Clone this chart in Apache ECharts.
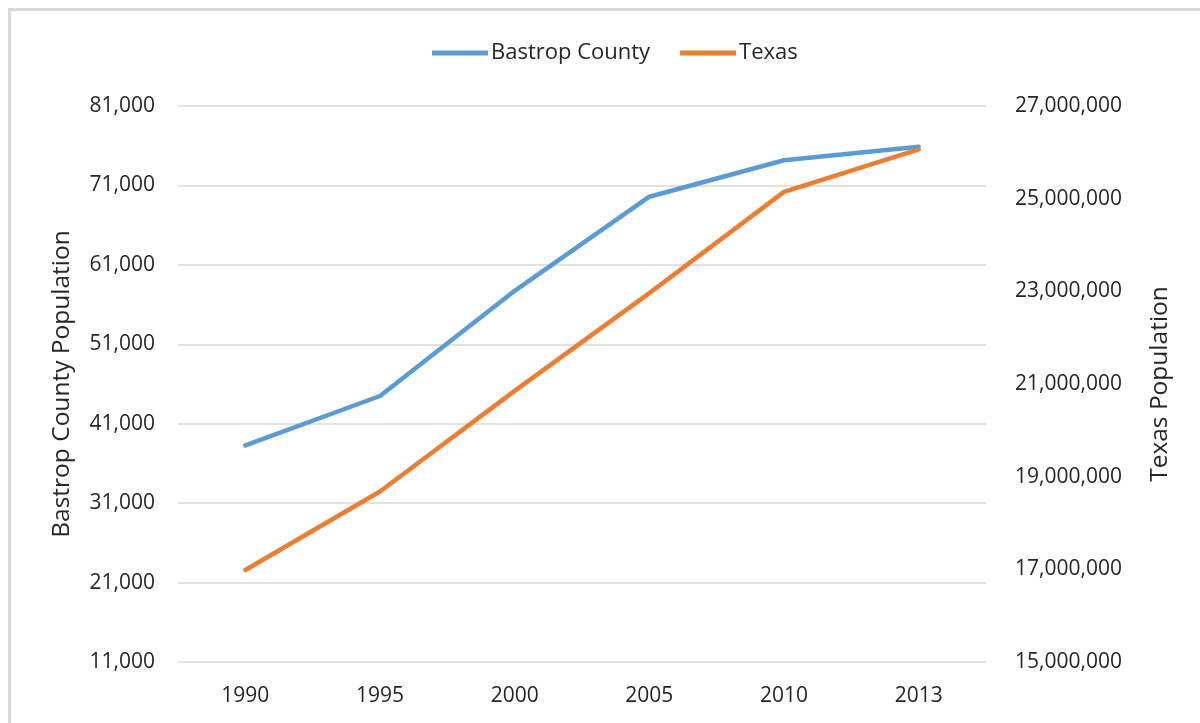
<!DOCTYPE html>
<html>
<head>
<meta charset="utf-8">
<script src="https://cdn.jsdelivr.net/npm/echarts@6/dist/echarts.min.js"></script>
<style>
html,body{margin:0;padding:0;background:#fff;}
#chart{width:1200px;height:723px;}
</style>
</head>
<body>
<div id="chart"></div>
<script>
const years = ['1990', '1995', '2000', '2005', '2010', '2013'];
const bastropCounty = [38263, 44490, 57733, 69580, 74171, 75880];
const texas = [16986510, 18680000, 20851820, 22960000, 25145561, 26065000];
const leftTicks = { min: 11000, max: 81000, interval: 10000 };
const rightTicks = { min: 15000000, max: 27000000, interval: 2000000 };

const FONT = 'Open Sans';
const TXT = '#262626';
const fmt = v => Math.round(v).toLocaleString('en-US');

const chart = echarts.init(document.getElementById('chart'), null, { renderer: 'canvas' });
chart.setOption({
  animation: false,
  backgroundColor: '#ffffff',
  textStyle: { fontFamily: FONT, color: TXT },
  graphic: [{
    type: 'rect',
    left: 8, top: 8,
    shape: { width: 1300, height: 800 },
    style: { fill: '#fefefe', stroke: '#d9d9d9', lineWidth: 3 },
    z: -10
  }],
  legend: {
    top: 37,
    left: 427,
    itemWidth: 56,
    itemHeight: 5,
    itemGap: 30,
    icon: 'rect',
    textStyle: { fontFamily: FONT, fontSize: 22, color: TXT, padding: [0, 0, 0, -2] },
    data: ['Bastrop County', 'Texas']
  },
  grid: { left: 178, right: 214, top: 106, bottom: 61, containLabel: false },
  xAxis: {
    type: 'category',
    data: years,
    boundaryGap: true,
    axisLine: { show: false },
    axisTick: { show: false },
    axisLabel: { fontFamily: FONT, fontSize: 21, color: TXT, margin: 24 }
  },
  yAxis: [{
    type: 'value',
    position: 'left',
    min: leftTicks.min, max: leftTicks.max, interval: leftTicks.interval,
    name: 'Bastrop County Population',
    nameLocation: 'middle',
    nameGap: 103,
    nameTextStyle: { fontFamily: FONT, fontSize: 24.5, color: TXT },
    axisLine: { show: false },
    axisTick: { show: false },
    axisLabel: { fontFamily: FONT, fontSize: 21, color: TXT, margin: 23, formatter: fmt },
    splitLine: { lineStyle: { color: '#d9d9d9', width: 1.5 } }
  }, {
    type: 'value',
    position: 'right',
    min: rightTicks.min, max: rightTicks.max, interval: rightTicks.interval,
    name: 'Texas Population',
    nameLocation: 'middle',
    nameGap: 162,
    nameRotate: 90,
    nameTextStyle: { fontFamily: FONT, fontSize: 24.5, color: TXT },
    axisLine: { show: false },
    axisTick: { show: false },
    axisLabel: { fontFamily: FONT, fontSize: 21, color: TXT, margin: 29, formatter: fmt },
    splitLine: { show: false }
  }],
  series: [{
    name: 'Bastrop County',
    type: 'line',
    yAxisIndex: 0,
    data: bastropCounty,
    symbol: 'none',
    color: '#5b9bd5',
    lineStyle: { color: '#5b9bd5', width: 4.5, cap: 'round', join: 'round' }
  }, {
    name: 'Texas',
    type: 'line',
    yAxisIndex: 1,
    data: texas,
    symbol: 'none',
    color: '#ed7d31',
    lineStyle: { color: '#ed7d31', width: 4.5, cap: 'round', join: 'round' }
  }]
});
</script>
</body>
</html>
